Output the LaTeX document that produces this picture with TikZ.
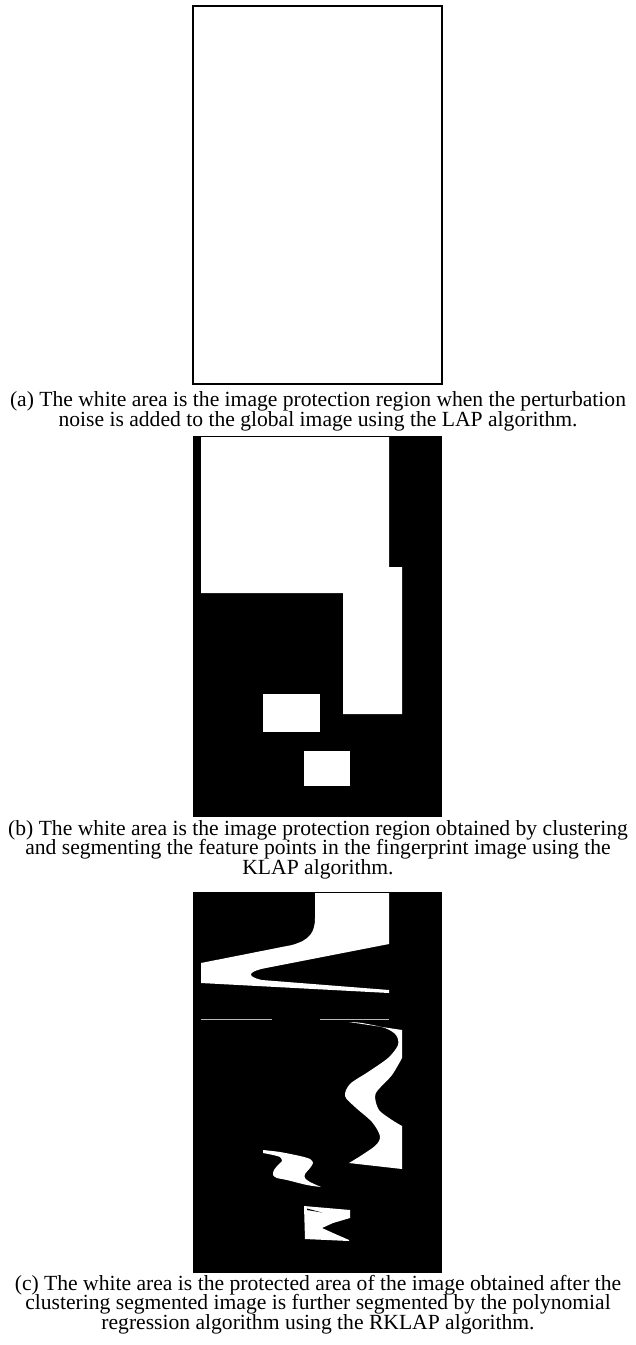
\documentclass[tikz,border=0pt]{standalone}
\usepackage{fontspec}
\setmainfont{Liberation Serif}
\usepackage{tikz}
\usetikzlibrary{positioning}
\newcommand{\capfont}{\fontsize{21.6}{19.4}\selectfont\lineskiplimit=-20pt\relax}

\begin{document}
\begin{tikzpicture}[x=1pt, y=-1pt,
        region/.style={fill=white},
        cutline/.style={draw=gray!55, line width=1pt},
        caption/.style={anchor=base, align=center, inner sep=0pt, font=\capfont}]
        \useasboundingbox (0,0) rectangle (636,1345);

        % (a) LAP
        \draw[line width=2pt, fill=white] (193,6) rectangle (442,384);
        \node[caption] (capA) at (318,426) {(a) The white area is the image protection region when the perturbation\\noise is added to the global image using the LAP algorithm.};

        % (b) KLAP
        \fill[black] (193,436) rectangle (442,817);
        \fill[region] (201,437) -- (389,437) -- (389,567) -- (402,567) -- (402,714) -- (343,714) -- (343,593) -- (201,593) -- cycle;
        \fill[region] (263,694) rectangle (320,732);
        \fill[region] (304,751) rectangle (350,786);
        \node[caption] (capB) at (318,874) {(b) The white area is the image protection region obtained by clustering\\and segmenting the feature points in the fingerprint image using the\\KLAP algorithm.};

        % (c) RKLAP
        \fill[black] (193,892) rectangle (442,1273);
        \fill[region] (315,893) -- (389,893) -- (389,944) -- (266,968) .. controls (250,971) and (244,976) .. (262,980) -- (389,990) -- (389,993) -- (201,983) -- (201,963) -- (292,945) .. controls (310,940) and (315,932) .. (315,918) -- cycle;
        \draw[cutline] (201,1019) -- (272,1019);
        \draw[cutline] (320,1019) -- (389,1019);
        \fill[region] (349,1022) -- (402,1030) -- (402,1058)
            -- plot[smooth] coordinates {(402,1058) (392,1075) (378,1090) (375,1097) (379,1110) (392,1120) (402,1126)}
            -- (402,1169) -- (349,1163)
            -- plot[smooth] coordinates {(349,1163) (362,1155) (376,1145) (380,1136) (372,1122) (355,1107) (345,1096) (350,1084) (368,1072) (388,1058) (398,1045) (396,1035) (385,1028) (362,1023) (349,1022)}
            -- cycle;
        \fill[region] plot[smooth] coordinates {(263,1150) (280,1152) (300,1156) (310,1159) (313,1163) (310,1168) (305,1174) (305,1178) (310,1182) (321,1187)}
            -- plot[smooth] coordinates {(321,1187) (307,1185) (287,1180) (277,1178) (273,1175) (274,1170) (278,1165) (282,1161) (280,1157) (273,1155) (263,1153)}
            -- cycle;
        \fill[region] (304,1206) -- (350,1210) -- (350,1218) -- (333,1223) -- (322,1228) -- (333,1233) -- (349,1240) -- (349,1241) -- (305,1239) -- cycle;
        \fill[black] (307,1208.5) -- (322,1212.5) -- (307,1210) -- cycle;
        \node[caption] (capC) at (318,1329) {(c) The white area is the protected area of the image obtained after the\\clustering segmented image is further segmented by the polynomial\\regression algorithm using the RKLAP algorithm.};
\end{tikzpicture}
\end{document}
